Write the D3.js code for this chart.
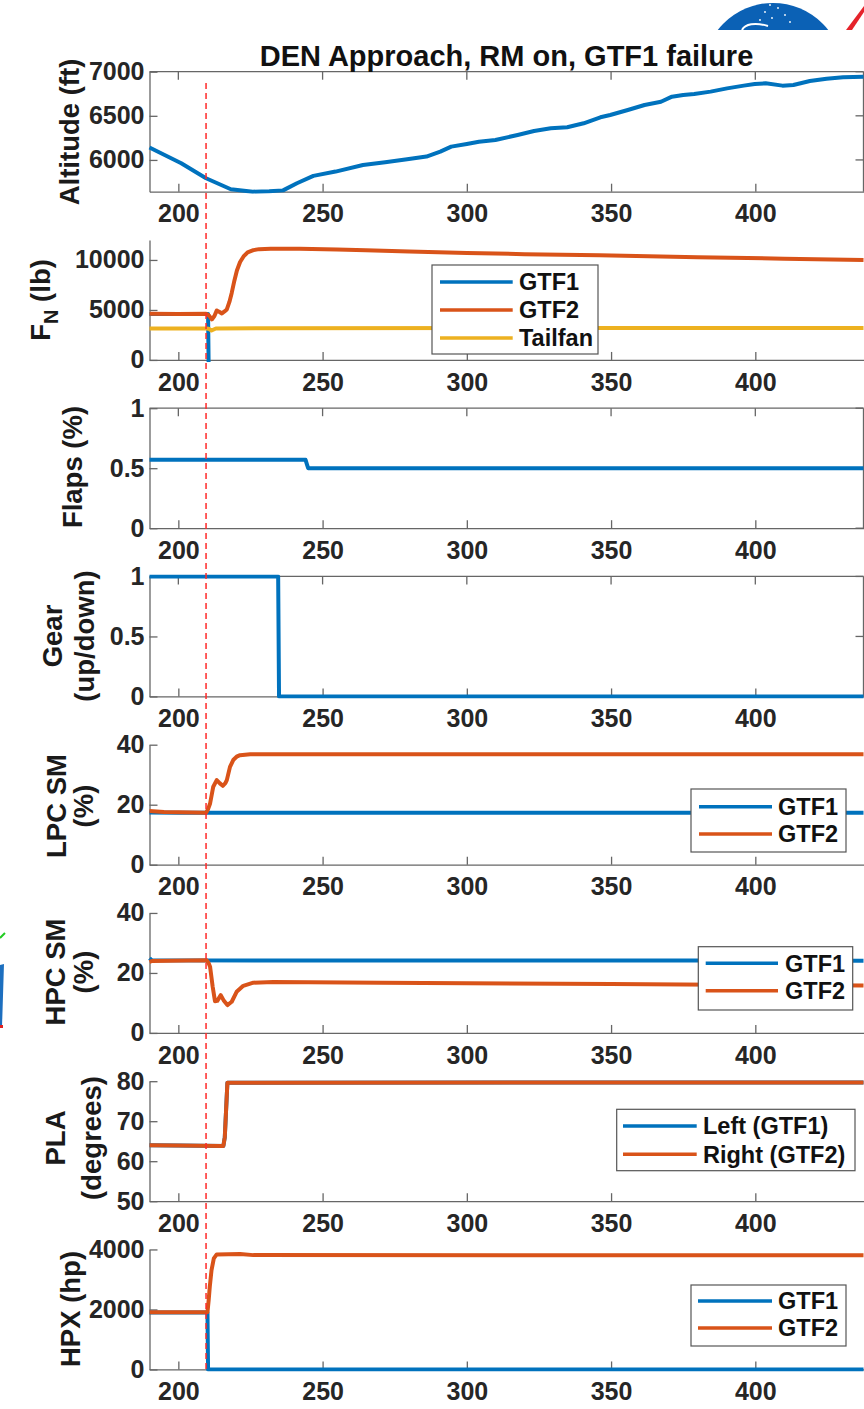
<!DOCTYPE html>
<html><head><meta charset="utf-8">
<script src="https://cdn.jsdelivr.net/npm/d3@7"></script>
<style>
body{margin:0;background:#fff}
svg{display:block}
text{font-family:"Liberation Sans",Arial,Helvetica,sans-serif;font-weight:bold}
</style>
</head><body>
<svg id="c" width="864" height="1409"></svg>
<script>
// ---------------- DATA ----------------
const titleText = "DEN Approach, RM on, GTF1 failure";
const xTickValues = [200, 250, 300, 350, 400];
const failureTime = 209.6;

const altitude = [[190,6140],[201,5962],[209.6,5792],[218.2,5668],[225.8,5640],[231.5,5645],[236.3,5655],[241.1,5736],[246.8,5819],[254.5,5868],[264,5943],[271.7,5973],[279.3,6007],[286,6038],[290.8,6094],[294.6,6151],[300,6181],[304.2,6207],[309.9,6226],[317.6,6283],[323.3,6328],[329.1,6358],[334.8,6370],[340.5,6415],[346.3,6483],[349.7,6509],[355.8,6566],[361.6,6623],[367.3,6660],[371.1,6717],[375,6736],[378.8,6747],[384.5,6774],[390.2,6811],[396,6842],[399.8,6860],[403.6,6868],[409.4,6842],[413.2,6849],[418.9,6894],[424.7,6921],[430.4,6936],[437.5,6943]];

const fnGTF1 = [[190,4600],[210.3,4600],[210.5,-600],[437.5,-600]];
const fnGTF2 = [[190,4620],[200,4600],[209.6,4620],[210.6,4450],[211.6,4050],[212.5,4400],[213.3,4950],[214.3,4800],[215.1,4650],[216,4850],[216.8,5050],[217.7,5800],[218.5,6700],[219.4,7900],[220.3,8950],[221.4,9800],[222.6,10350],[224,10750],[226,10980],[228,11080],[232,11120],[242,11120],[255,11050],[265,10980],[280,10850],[300,10700],[320,10580],[346,10460],[380,10280],[410,10130],[437.5,10000]];
const fnTailfan = [[190,3150],[209.6,3150],[210.5,3120],[211.5,2950],[213,3150],[230,3180],[437.5,3200]];

const flaps = [[190,0.57],[244.1,0.57],[244.6,0.53],[245,0.5],[437.5,0.5]];
const gear = [[190,1],[234.6,1],[234.9,0],[437.5,0]];

const lpcGTF1 = [[190,17.4],[200,17.3],[437.5,17.3]];
const lpcGTF2 = [[190,17.9],[195,17.6],[205,17.4],[209.6,17.3],[210.3,18.5],[211,20.4],[212.1,26],[213.3,28.2],[214.4,27.1],[215.4,26.3],[216.3,27.2],[216.8,28.2],[217.9,32.6],[219.1,35],[220.2,36],[221.4,36.5],[224.9,36.8],[437.5,36.8]];

const hpcGTF1 = [[190,24.9],[190.8,24.2],[437.5,24.1]];
const hpcGTF2 = [[190,23.7],[191,24],[209.8,24.2],[210.4,23.5],[211,22.1],[211.9,15.4],[212.7,10.6],[213.5,10.7],[214.7,12.6],[215.8,10.7],[217,9.3],[218.5,10.4],[220.2,13.7],[222.5,15.7],[226,16.75],[232.9,17],[270,16.75],[300,16.6],[350,16.3],[400,16],[437.5,15.8]];

const plaLeft = [[190,64],[200,63.9],[215.6,63.8],[216.1,66],[217,79.6],[437.5,79.7]];
const plaRight = [[190,64],[200,63.9],[215.6,63.8],[216.1,66],[217,79.6],[437.5,79.7]];

const hpxGTF1 = [[190,1900],[210.1,1900],[210.3,0],[437.5,0]];
const hpxGTF2 = [[190,1910],[210.1,1910],[210.5,2300],[210.9,2760],[211.5,3314],[212.3,3700],[213.3,3834],[221.4,3845],[226,3811],[437.5,3805]];

const altTicks = [6000, 6500, 7000];
const fnTicks = [0, 5000, 10000];
const unitTicks = [0, 0.5, 1];
const smTicks = [0, 20, 40];
const plaTicks = [50, 60, 70, 80];
const hpxTicks = [0, 2000, 4000];

// ---------------- STYLE / LAYOUT ----------------
const BLUE = "#0072BD", ORANGE = "#D95319", YELLOW = "#EDB120";
const AX = "#666666", TXT = "#262626";
const LW = 4;
const svg = d3.select("#c");

// decorations from the slide background
const deco = svg.append("g");
deco.append("clipPath").attr("id","logoClip").append("rect").attr("x",0).attr("y",0).attr("width",864).attr("height",30);
const lg = deco.append("g").attr("clip-path","url(#logoClip)");
lg.append("circle").attr("cx",773).attr("cy",73).attr("r",70).attr("fill","#0b61b5");
lg.append("path").attr("d","M742,30 C745,24 755,22 768,26").attr("stroke","#fff").attr("stroke-width",2).attr("fill","none");
[[765,12],[772,18],[778,8],[785,15],[760,20],[790,22],[770,5]].forEach(p=>lg.append("circle").attr("cx",p[0]).attr("cy",p[1]).attr("r",0.9).attr("fill","#fff"));
lg.append("path").attr("d","M846,30 L864,6 L864,12 L852,30 Z").attr("fill","#e5232b");
deco.append("path").attr("d","M0,965 L4,964 L2,1027 L0,1027 Z").attr("fill","#1d6fbf");
deco.append("path").attr("d","M0,938 L5,933").attr("stroke","#22cc22").attr("stroke-width",2);
deco.append("rect").attr("x",0).attr("y",1025).attr("width",3).attr("height",3).attr("fill","#e02020");

const x = d3.scaleLinear().domain([190, 437.5]).range([149.5, 863.5]);
const PH = 120;
const top0 = 71.7, step = 168.25;

const panels = [
  {domain:[5640,7000], ticks:altTicks, box:true, series:[[altitude,BLUE]], label:{lines:["Altitude (ft)"], bx:[79], cy:132}},
  {domain:[0,12000], ticks:fnTicks, box:false, series:[[fnGTF1,BLUE],[fnGTF2,ORANGE],[fnTailfan,YELLOW]], label:{fn:true, bx:50, cy:300},
   legend:{box:[432,265,598,354], rows:[282,310,338], lx:[440,512.7], tx:519, names:["GTF1","GTF2","Tailfan"], colors:[BLUE,ORANGE,YELLOW]}},
  {domain:[0,1], ticks:unitTicks, box:true, series:[[flaps,BLUE]], label:{lines:["Flaps (%)"], bx:[82], cy:467}},
  {domain:[0,1], ticks:unitTicks, box:true, series:[[gear,BLUE]], label:{lines:["Gear","(up/down)"], bx:[62,94], cy:636}},
  {domain:[0,40], ticks:smTicks, box:false, series:[[lpcGTF1,BLUE],[lpcGTF2,ORANGE]], label:{lines:["LPC SM","(%)"], bx:[66,93], cy:806},
   legend:{box:[691,789,846,852], rows:[806.7,834], lx:[699,772], tx:778, names:["GTF1","GTF2"], colors:[BLUE,ORANGE]}},
  {domain:[0,40], ticks:smTicks, box:false, series:[[hpcGTF1,BLUE],[hpcGTF2,ORANGE]], label:{lines:["HPC SM","(%)"], bx:[65,93], cy:972},
   legend:{box:[698.3,946.7,852.7,1010], rows:[963.3,990.7], lx:[705.7,778], tx:785, names:["GTF1","GTF2"], colors:[BLUE,ORANGE]}},
  {domain:[50,80], ticks:plaTicks, box:false, series:[[plaLeft,BLUE],[plaRight,ORANGE]], label:{lines:["PLA","(degrees)"], bx:[65,101], cy:1138},
   legend:{box:[616.7,1109.3,855,1170.7], rows:[1126,1154.3], lx:[623,696.7], tx:703, names:["Left (GTF1)","Right (GTF2)"], colors:[BLUE,ORANGE]}},
  {domain:[0,4000], ticks:hpxTicks, box:false, series:[[hpxGTF1,BLUE],[hpxGTF2,ORANGE]], label:{lines:["HPX (hp)"], bx:[80], cy:1309},
   legend:{box:[691,1285,846,1346], rows:[1301,1328], lx:[698,772], tx:778, names:["GTF1","GTF2"], colors:[BLUE,ORANGE]}}
];

const x0 = x.range()[0], x1 = x.range()[1];

panels.forEach((p, i) => {
  const top = top0 + i*step, bot = top + PH;
  const y = d3.scaleLinear().domain(p.domain).range([bot, top]);
  const g = svg.append("g");
  const cid = "clip"+i;
  g.append("clipPath").attr("id",cid).append("rect").attr("x",x0-2).attr("y",top-2).attr("width",x1-x0+4).attr("height",PH+4);

  // axes
  const ax = d3.axisLeft(y).tickValues(p.ticks).tickFormat(d=>String(d)).tickSize(-8).tickSizeOuter(0).tickPadding(5);
  const gy = g.append("g").attr("transform",`translate(${x0},0)`).call(ax);
  const bx = d3.axisBottom(x).tickValues(xTickValues).tickFormat(d=>String(d)).tickSize(-8).tickSizeOuter(0).tickPadding(13);
  const gx = g.append("g").attr("transform",`translate(0,${bot})`).call(bx);
  [gy,gx].forEach(a=>{
    a.selectAll("path,line").attr("stroke",AX).attr("stroke-width",1.3);
    a.selectAll("text").attr("fill",TXT).style("font-size","25px").style("font-weight","bold");
  });
  if (p.box) {
    g.append("line").attr("x1",x0).attr("x2",x1).attr("y1",top).attr("y2",top).attr("stroke",AX).attr("stroke-width",1.3);
    g.append("line").attr("x1",x1).attr("x2",x1).attr("y1",top).attr("y2",bot).attr("stroke",AX).attr("stroke-width",1.3);
    xTickValues.forEach(t=>g.append("line").attr("x1",x(t)).attr("x2",x(t)).attr("y1",top).attr("y2",top+8).attr("stroke",AX).attr("stroke-width",1.3));
    p.ticks.forEach(t=>g.append("line").attr("x1",x1-8).attr("x2",x1).attr("y1",y(t)).attr("y2",y(t)).attr("stroke",AX).attr("stroke-width",1.3));
  }

  // data lines
  const line = d3.line().x(d=>x(d[0])).y(d=>y(d[1]));
  const lg2 = g.append("g").attr("clip-path",`url(#${cid})`);
  p.series.forEach(([data,color])=>{
    lg2.append("path").datum(data).attr("d",line).attr("fill","none").attr("stroke",color)
      .attr("stroke-width",LW).attr("stroke-linejoin","round").attr("stroke-linecap","butt");
  });

  // y label
  const L = p.label;
  if (L.fn) {
    const t = g.append("text").attr("transform",`translate(${L.bx},${L.cy}) rotate(-90)`).attr("text-anchor","middle")
      .attr("fill","#1a1a1a").style("font-size","27.5px");
    t.append("tspan").text("F");
    t.append("tspan").attr("dy",8).style("font-size","20px").text("N");
    t.append("tspan").attr("dy",-8).text(" (lb)");
  } else {
    L.lines.forEach((s,k)=>{
      g.append("text").attr("transform",`translate(${L.bx[k]},${L.cy}) rotate(-90)`).attr("text-anchor","middle")
        .attr("fill","#1a1a1a").style("font-size","27.5px").text(s);
    });
  }

  // legend
  if (p.legend) {
    const lgd = p.legend, b = lgd.box;
    const gl = g.append("g");
    gl.append("rect").attr("x",b[0]).attr("y",b[1]).attr("width",b[2]-b[0]).attr("height",b[3]-b[1])
      .attr("fill","#fff").attr("stroke","#555").attr("stroke-width",1.2);
    lgd.names.forEach((n,k)=>{
      gl.append("line").attr("x1",lgd.lx[0]).attr("x2",lgd.lx[1]).attr("y1",lgd.rows[k]).attr("y2",lgd.rows[k])
        .attr("stroke",lgd.colors[k]).attr("stroke-width",3.6);
      gl.append("text").attr("x",lgd.tx).attr("y",lgd.rows[k]).attr("dy","0.36em").attr("fill","#111")
        .style("font-size","23.5px").text(n);
    });
  }
});

// title
svg.append("text").attr("x",(x0+x1)/2).attr("y",65.5).attr("text-anchor","middle").attr("fill","#111")
  .style("font-size","29px").text(titleText);

// failure marker
svg.append("line").attr("x1",x(failureTime)).attr("x2",x(failureTime)).attr("y1",83).attr("y2",1370)
  .attr("stroke","#ff2a2a").attr("stroke-width",1.5).attr("stroke-dasharray","6,4");
</script>
</body></html>
